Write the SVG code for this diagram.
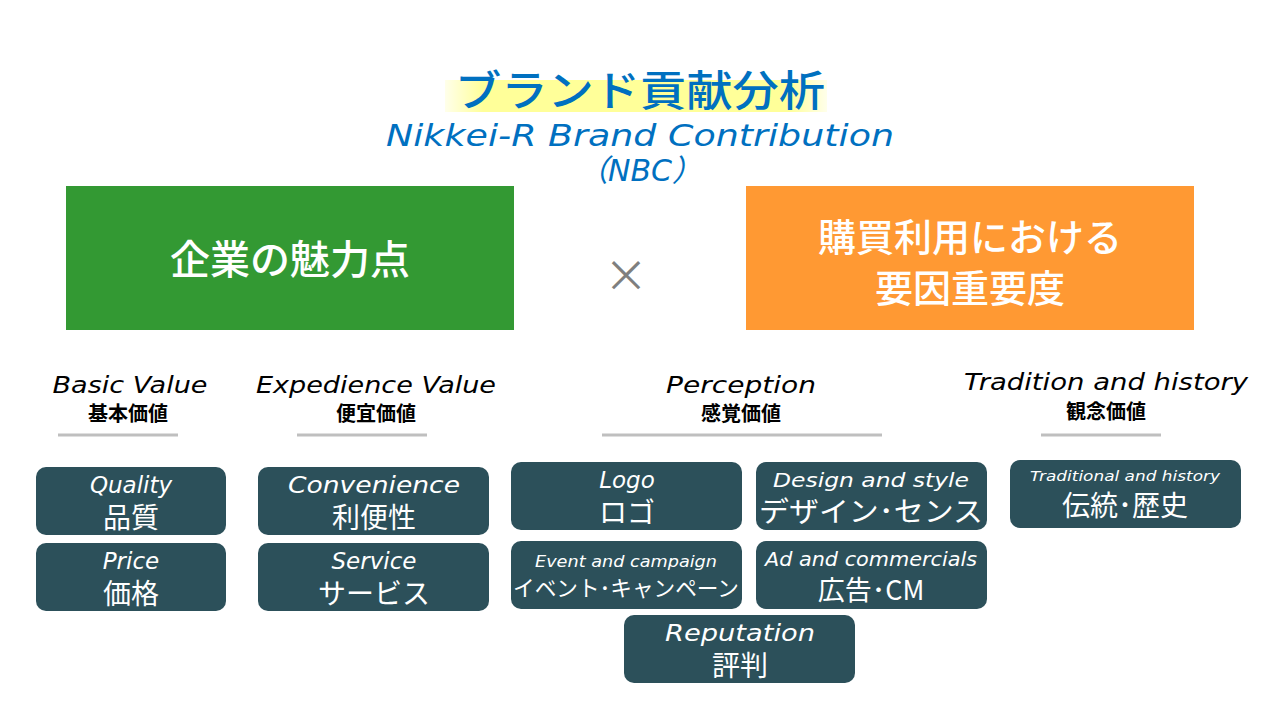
<svg xmlns="http://www.w3.org/2000/svg" width="1280" height="720" viewBox="0 0 1280 720">
<style>
.t{font-family:"Noto Sans CJK JP","Noto Sans",sans-serif}
.i{font-family:"DejaVu Sans","Noto Sans CJK JP",sans-serif;font-style:italic}
.b rect{fill:#2C505A}
.b text{fill:#fff;text-anchor:middle}
.h text{fill:#000;text-anchor:middle}
.ln{stroke:#BFBFBF;stroke-width:3}
</style>
<defs>
<linearGradient id="hl" x1="0" x2="1">
<stop offset="0" stop-color="#FFFF99" stop-opacity="0.2"/>
<stop offset="0.1" stop-color="#FFFF99"/>
<stop offset="0.9" stop-color="#FFFF99"/>
<stop offset="1" stop-color="#FFFF99" stop-opacity="0.2"/>
</linearGradient>
</defs>
<rect width="1280" height="720" fill="#fff"/>
<g id="title">
<rect x="445" y="80" width="382" height="32" fill="url(#hl)"/>
<text x="640" y="106" class="t" font-size="42" font-weight="500" fill="#0070C0" text-anchor="middle" textLength="370" lengthAdjust="spacingAndGlyphs">ブランド貢献分析</text>
<text x="640" y="146" class="i" font-size="31" fill="#0070C0" text-anchor="middle" textLength="508" lengthAdjust="spacingAndGlyphs">Nikkei-R Brand Contribution</text>
<text x="640" y="181" class="i" font-size="30" fill="#0070C0" text-anchor="middle">（NBC）</text>
</g>
<g id="attract">
<rect x="66" y="186" width="448" height="144" fill="#339933"/>
<text x="290" y="274" class="t" font-size="40" font-weight="500" fill="#fff" text-anchor="middle">企業の魅力点</text>
</g>
<g id="times"><text x="626" y="292" class="t" font-size="44" fill="#7F7F7F" text-anchor="middle">×</text></g>
<g id="importance">
<rect x="746" y="186" width="448" height="144" fill="#FF9933"/>
<text x="970" y="251" class="t" font-size="38" font-weight="500" fill="#fff" text-anchor="middle">購買利用における</text>
<text x="970" y="302" class="t" font-size="38" font-weight="500" fill="#fff" text-anchor="middle">要因重要度</text>
</g>
<g class="h" id="h1"><text x="130" y="393" class="i" font-size="23" textLength="155" lengthAdjust="spacingAndGlyphs">Basic Value</text><text x="128" y="421" class="t" font-size="20" font-weight="bold">基本価値</text></g>
<g class="h" id="h2"><text x="376" y="393" class="i" font-size="23" textLength="240" lengthAdjust="spacingAndGlyphs">Expedience Value</text><text x="376" y="421" class="t" font-size="20" font-weight="bold">便宜価値</text></g>
<g class="h" id="h3"><text x="741" y="393" class="i" font-size="23" textLength="150" lengthAdjust="spacingAndGlyphs">Perception</text><text x="741" y="421" class="t" font-size="20" font-weight="bold">感覚価値</text></g>
<g class="h" id="h4"><text x="1106" y="390" class="i" font-size="23" textLength="284" lengthAdjust="spacingAndGlyphs">Tradition and history</text><text x="1106" y="419" class="t" font-size="20" font-weight="bold">観念価値</text></g>
<g id="connectors">
<line class="ln" x1="58" y1="435" x2="178" y2="435"/>
<line class="ln" x1="297" y1="435" x2="427" y2="435"/>
<line class="ln" x1="602" y1="435" x2="882" y2="435"/>
<line class="ln" x1="1041" y1="435" x2="1161" y2="435"/>
</g>
<g class="b" id="quality"><rect x="36" y="467" width="190" height="68" rx="10"/><text x="131" y="493" class="i" font-size="23">Quality</text><text x="131" y="528" class="t" font-size="28">品質</text></g>
<g class="b" id="price"><rect x="36" y="543" width="190" height="68" rx="10"/><text x="131" y="569" class="i" font-size="23">Price</text><text x="131" y="604" class="t" font-size="28">価格</text></g>
<g class="b" id="convenience"><rect x="258" y="467" width="231" height="68" rx="10"/><text x="374" y="493" class="i" font-size="23" textLength="172" lengthAdjust="spacingAndGlyphs">Convenience</text><text x="374" y="528" class="t" font-size="28">利便性</text></g>
<g class="b" id="service"><rect x="258" y="543" width="231" height="68" rx="10"/><text x="374" y="569" class="i" font-size="23">Service</text><text x="374" y="604" class="t" font-size="28">サービス</text></g>
<g class="b" id="logo"><rect x="511" y="462" width="231" height="68" rx="10"/><text x="627" y="488" class="i" font-size="23">Logo</text><text x="627" y="523" class="t" font-size="28">ロゴ</text></g>
<g class="b" id="design"><rect x="756" y="462" width="231" height="68" rx="10"/><text x="871" y="487" class="i" font-size="20" textLength="196" lengthAdjust="spacingAndGlyphs">Design and style</text><text x="871" y="522" class="t" font-size="28" textLength="224" lengthAdjust="spacingAndGlyphs">デザイン･センス</text></g>
<g class="b" id="event"><rect x="511" y="541" width="231" height="68" rx="10"/><text x="626" y="567" class="i" font-size="15" textLength="182" lengthAdjust="spacingAndGlyphs">Event and campaign</text><text x="626" y="596" class="t" font-size="22" textLength="226" lengthAdjust="spacingAndGlyphs">イベント･キャンペーン</text></g>
<g class="b" id="ad"><rect x="756" y="541" width="231" height="68" rx="10"/><text x="871" y="566" class="i" font-size="20" textLength="212" lengthAdjust="spacingAndGlyphs">Ad and commercials</text><text x="871" y="600" class="t" font-size="27">広告･CM</text></g>
<g class="b" id="reputation"><rect x="624" y="615" width="231" height="68" rx="10"/><text x="740" y="641" class="i" font-size="23" textLength="150" lengthAdjust="spacingAndGlyphs">Reputation</text><text x="740" y="676" class="t" font-size="28">評判</text></g>
<g class="b" id="traditional"><rect x="1010" y="460" width="231" height="68" rx="10"/><text x="1125" y="481" class="i" font-size="14" textLength="190" lengthAdjust="spacingAndGlyphs">Traditional and history</text><text x="1125" y="516" class="t" font-size="28">伝統･歴史</text></g>
</svg>
